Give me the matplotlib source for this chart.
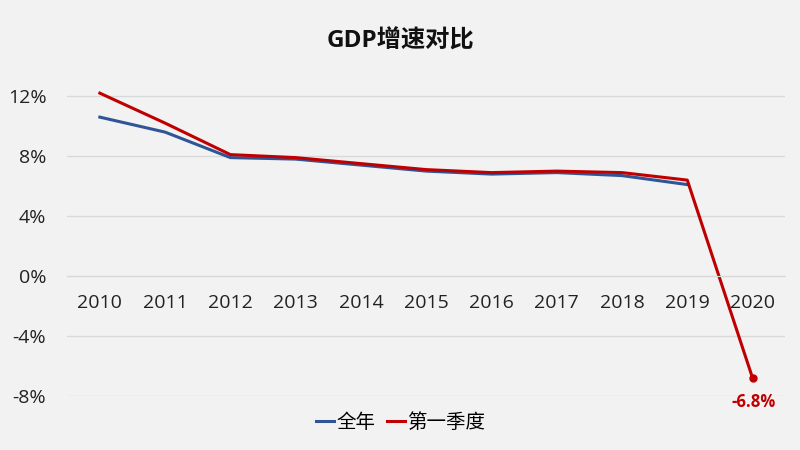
import matplotlib
matplotlib.use("Agg")
import matplotlib.pyplot as plt
from matplotlib.ticker import FuncFormatter

plt.rcParams['font.family'] = ['Open Sans', 'Noto Sans CJK SC', 'DejaVu Sans']

# data
years = ['2010', '2011', '2012', '2013', '2014', '2015', '2016', '2017', '2018', '2019', '2020']
annual = [10.6, 9.6, 7.9, 7.8, 7.4, 7.0, 6.8, 6.9, 6.7, 6.1]
q1 = [12.2, 10.2, 8.1, 7.9, 7.5, 7.1, 6.9, 7.0, 6.9, 6.4, -6.8]
yticks = [-8, -4, 0, 4, 8, 12]

bg = '#F2F2F2'
blue = '#2F5597'
red = '#C00000'

fig = plt.figure(figsize=(8, 4.5), dpi=100, facecolor=bg)
ax = fig.add_axes([0.084, 0.12, 0.8975, 0.733])
ax.set_facecolor(bg)

x_a = list(range(len(annual)))
x_q = list(range(len(q1)))
ax.plot(x_a, annual, color=blue, lw=2.2, label='全年', solid_joinstyle='round')
ax.plot(x_q, q1, color=red, lw=2.2, label='第一季度', solid_joinstyle='round')
ax.plot([x_q[-1]], [q1[-1]], 'o', color=red, ms=5)
ax.annotate('%.1f%%' % q1[-1], (x_q[-1], q1[-1]), xytext=(1, -17),
            textcoords='offset points', ha='center', va='center',
            color=red, fontsize=12, fontweight='bold')

ax.set_xlim(-0.5, len(years) - 0.5)
ax.set_ylim(-8, 14)
ax.set_yticks(yticks)
ax.yaxis.set_major_formatter(FuncFormatter(lambda v, p: '%d%%' % v))
ax.grid(axis='y', color='#D9D9D9', lw=1)
ax.set_axisbelow(True)

ax.set_xticks(x_q)
ax.set_xticklabels(years)
for s in ['top', 'right', 'left']:
    ax.spines[s].set_visible(False)
ax.spines['bottom'].set_position(('data', 0))
ax.spines['bottom'].set_color('#D9D9D9')
ax.tick_params(axis='x', length=0, pad=13, labelsize=14, colors='#222222')
ax.tick_params(axis='y', length=0, pad=15, labelsize=14, colors='#222222')

fig.suptitle('GDP增速对比', y=0.935, fontsize=17.5, fontweight='bold', color='#111111')
ax.legend(loc='center', bbox_to_anchor=(0.464, -0.08), ncol=2, frameon=False,
          fontsize=14, handlelength=0.95, handletextpad=0.1, columnspacing=0.6)

fig.savefig('out.png', dpi=100, facecolor=bg)
